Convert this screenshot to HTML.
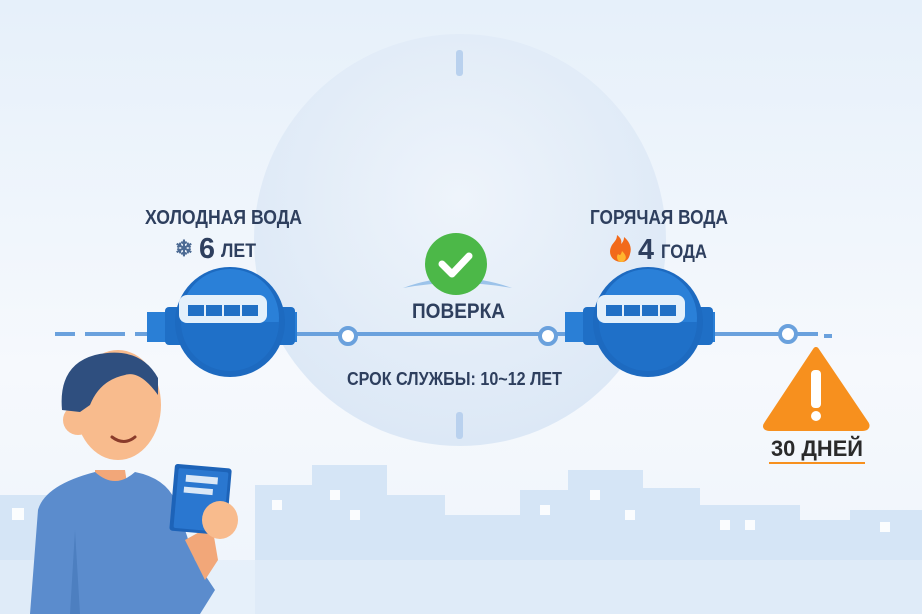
<!DOCTYPE html><html><head><meta charset="utf-8"><style>body{margin:0}svg{display:block}text{font-family:"Liberation Sans",sans-serif;font-weight:bold}</style></head><body>
<svg width="922" height="614" viewBox="0 0 922 614" xmlns="http://www.w3.org/2000/svg">
<defs><linearGradient id="bg" x1="0" y1="0" x2="0" y2="1"><stop offset="0" stop-color="#e6f0fa"/><stop offset="0.6" stop-color="#f6f9fd"/><stop offset="1" stop-color="#eef4fb"/></linearGradient>
<radialGradient id="cg" cx="0.5" cy="0.4" r="0.6"><stop offset="0" stop-color="#eef4fb"/><stop offset="1" stop-color="#dce8f6"/></radialGradient></defs>
<rect width="922" height="614" fill="url(#bg)"/>
<circle cx="460" cy="240" r="206" fill="url(#cg)"/>
<rect x="456" y="50" width="7" height="26" rx="3" fill="#b9d1ee"/>
<rect x="456" y="412" width="7" height="27" rx="3" fill="#b9d1ee"/>
<g fill="#d5e5f6">
<rect x="0" y="495" width="50" height="119"/><rect x="255" y="485" width="60" height="129"/><rect x="312" y="465" width="75" height="149"/><rect x="385" y="495" width="60" height="119"/><rect x="445" y="515" width="80" height="99"/><rect x="520" y="490" width="50" height="124"/><rect x="568" y="470" width="75" height="144"/><rect x="640" y="488" width="60" height="126"/><rect x="700" y="505" width="100" height="109"/><rect x="800" y="520" width="50" height="94"/><rect x="850" y="510" width="72" height="104"/>
</g>
<rect x="0" y="560" width="922" height="54" fill="#e3eefa" opacity="0.7"/>
<g fill="#fff" opacity="0.9"><rect x="12" y="508" width="12" height="12"/><rect x="272" y="500" width="10" height="10"/><rect x="330" y="490" width="10" height="10"/><rect x="350" y="510" width="10" height="10"/><rect x="540" y="505" width="10" height="10"/><rect x="590" y="490" width="10" height="10"/><rect x="625" y="510" width="10" height="10"/><rect x="720" y="520" width="10" height="10"/><rect x="745" y="520" width="10" height="10"/><rect x="880" y="522" width="10" height="10"/></g>
<g stroke="#6aa1dd" stroke-width="4" fill="none">
<line x1="55" y1="334" x2="75" y2="334"/><line x1="85" y1="334" x2="125" y2="334"/><line x1="135" y1="334" x2="600" y2="334"/><line x1="700" y1="334" x2="818" y2="334"/><line x1="824" y1="336" x2="832" y2="336"/>
</g>
<g stroke="#6aa1dd" stroke-width="4" fill="#fff"><circle cx="348" cy="336" r="8"/><circle cx="548" cy="336" r="8"/><circle cx="788" cy="334" r="8"/></g>
<g id="m">
<rect x="147" y="312" width="150" height="30" fill="#2a7fd6"/>
<rect x="165" y="307" width="130" height="38" rx="4" fill="#1f6fc6"/>
<circle cx="230" cy="322" r="55" fill="#1d6ac0"/>
<circle cx="230" cy="318" r="49" fill="#2a80d8"/>
<path d="M181 322 A49 49 0 0 0 279 322 Z" fill="#1f70c8"/>
<rect x="179" y="295" width="88" height="28" rx="8" fill="#e3f0fb"/>
<g fill="#2070c5"><rect x="188" y="305" width="16" height="11"/><rect x="206" y="305" width="16" height="11"/><rect x="224" y="305" width="16" height="11"/><rect x="242" y="305" width="16" height="11"/></g>
</g>
<use href="#m" transform="translate(418,0)"/>
<text x="145" y="224" font-size="20" fill="#2e3f5e" textLength="157" lengthAdjust="spacingAndGlyphs">ХОЛОДНАЯ ВОДА</text>
<text x="184" y="256" font-size="22" fill="#4c6a93" text-anchor="middle">❄</text>
<text x="199" y="258" font-size="29" fill="#2e3f5e" textLength="16" lengthAdjust="spacingAndGlyphs">6</text><text x="221" y="257" font-size="19" fill="#2e3f5e" textLength="35" lengthAdjust="spacingAndGlyphs">ЛЕТ</text>
<text x="590" y="224" font-size="20" fill="#2e3f5e" textLength="138" lengthAdjust="spacingAndGlyphs">ГОРЯЧАЯ ВОДА</text>
<path d="M622 262 c-10 0 -14 -8 -11 -15 c2 -5 6 -6 6 -12 c4 3 5 6 4 9 c2 -2 3 -4 3 -7 c6 5 8 11 6 17 c-1 5 -4 8 -8 8z" fill="#f26a1b"/><path d="M622 262 c-5 0 -6 -5 -4 -8 c2 2 3 1 4 -3 c3 3 5 6 3 9 c-1 1 -2 2 -3 2z" fill="#ffb52e"/>
<text x="638" y="259" font-size="29" fill="#2e3f5e" textLength="16" lengthAdjust="spacingAndGlyphs">4</text><text x="661" y="258" font-size="19" fill="#2e3f5e" textLength="46" lengthAdjust="spacingAndGlyphs">ГОДА</text>
<path d="M403 288 Q456 268 512 288 Q456 278 403 288Z" fill="#9cc3ea"/>
<circle cx="456" cy="264" r="31" fill="#4cb848"/>
<path d="M442 264 l10 10 l17 -18" stroke="#fff" stroke-width="7" fill="none" stroke-linecap="round" stroke-linejoin="round"/>
<text x="412" y="318" font-size="21" fill="#2e3f5e" textLength="93" lengthAdjust="spacingAndGlyphs">ПОВЕРКА</text>
<text x="347" y="385" font-size="18" fill="#2e3f5e" textLength="215" lengthAdjust="spacingAndGlyphs">СРОК СЛУЖБЫ: 10~12 ЛЕТ</text>
<path d="M816 350 L866 424 Q868 428 862 428 L770 428 Q764 428 767 424 Z" fill="#f7901e" stroke="#f7901e" stroke-width="6" stroke-linejoin="round"/>
<rect x="811" y="370" width="10" height="38" rx="4" fill="#fff"/><circle cx="816" cy="416" r="5" fill="#fff"/>
<text x="771" y="456" font-size="22" fill="#2a2a2a" textLength="92" lengthAdjust="spacingAndGlyphs">30 ДНЕЙ</text>
<rect x="769" y="462" width="96" height="2" fill="#f7901e"/>
<path d="M95 470 L125 470 L128 490 L95 490Z" fill="#f2a779"/>
<path d="M30 614 L38 510 Q45 485 95 472 Q115 490 135 472 Q165 478 175 500 L195 560 L215 590 L200 614Z" fill="#5b8ccd"/>
<path d="M75 530 L80 614 L70 614Z" fill="#4d7fc0"/>
<path d="M185 540 L205 580 L218 560 L212 525Z" fill="#f2a779"/>
<ellipse cx="118" cy="405" rx="43" ry="55" fill="#f8bb8d"/>
<circle cx="78" cy="420" r="15" fill="#f8bb8d"/>
<path d="M62 410 Q58 365 95 355 Q140 345 158 378 L158 395 Q140 370 125 375 Q100 380 90 405 L80 412Z" fill="#2f4f7f"/>
<path d="M112 437 Q124 446 135 437" stroke="#8a3b2a" stroke-width="3" fill="none" stroke-linecap="round"/>
<rect x="172" y="466" width="57" height="67" rx="3" fill="#1d63b8" transform="rotate(5 200 500)"/>
<rect x="176" y="470" width="50" height="60" rx="2" fill="#2a77d0" transform="rotate(5 200 500)"/>
<rect x="184" y="476" width="32" height="7" fill="#dbe8f7" transform="rotate(5 200 500)"/>
<rect x="183" y="488" width="29" height="6" fill="#dbe8f7" transform="rotate(5 200 500)"/>
<ellipse cx="220" cy="520" rx="18" ry="19" fill="#f8bb8d"/>
</svg></body></html>
